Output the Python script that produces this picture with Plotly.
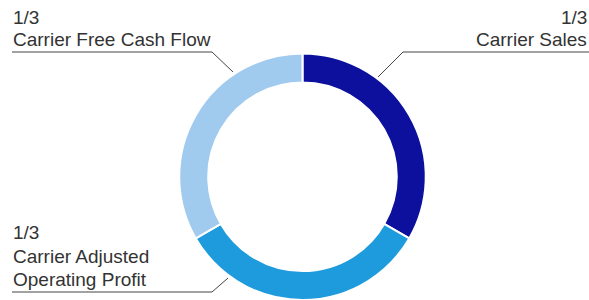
import plotly.graph_objects as go

categories = ["Carrier Sales", "Carrier Adjusted Operating Profit", "Carrier Free Cash Flow"]
values = [1, 1, 1]
value_labels = ["1/3", "1/3", "1/3"]
colors = ["#0C109C", "#1E9BDC", "#A0CBEF"]

W, H = 589, 300

def px(x):
    return x / W

def py(y):
    return 1 - y / H

fig = go.Figure(go.Pie(
    labels=categories,
    values=values,
    sort=False,
    direction="clockwise",
    rotation=0,
    hole=0.765,
    marker=dict(colors=colors, line=dict(color="white", width=2)),
    textinfo="none",
    hoverinfo="label+percent",
    domain=dict(x=[px(302.5 - 123.5), px(302.5 + 123.5)], y=[0, py(53.5)]),
    showlegend=False,
))

line_style = dict(color="#444444", width=1)
shapes = [
    dict(type="path", path=f"M {px(12)} {py(52)} L {px(212)} {py(52)} L {px(233)} {py(72)}"),
    dict(type="path", path=f"M {px(589)} {py(52)} L {px(403)} {py(52)} L {px(378)} {py(77)}"),
    dict(type="path", path=f"M {px(12)} {py(292)} L {px(212)} {py(292)} L {px(228)} {py(278)}"),
]
for s in shapes:
    s.update(xref="paper", yref="paper", line=line_style)

font = dict(family="Liberation Sans, Arial, sans-serif", size=19, color="#333333")

# (text, x, cap-centre y, anchor)
label_lines = [
    (value_labels[2], 12, 16.5, "left"),
    (categories[2], 12, 39, "left"),
    (value_labels[0], 588, 16.5, "right"),
    (categories[0], 588, 39, "right"),
    (value_labels[1], 12, 232, "left"),
    ("Carrier Adjusted", 12, 255.5, "left"),
    ("Operating Profit", 12, 278, "left"),
]
annotations = []
for text, x, y, anchor in label_lines:
    annotations.append(dict(
        x=px(x), y=py(y + 1), xanchor=anchor, yanchor="middle", align=anchor,
        text=text, xref="paper", yref="paper", showarrow=False, font=font,
        borderpad=0,
    ))

fig.update_layout(
    width=W, height=H,
    margin=dict(l=0, r=0, t=0, b=0),
    paper_bgcolor="white",
    plot_bgcolor="white",
    shapes=shapes,
    annotations=annotations,
)

fig.write_html(
    "out.html",
    config={"displayModeBar": False},
    post_script="document.body.style.margin='0';document.body.style.overflow='hidden';",
)
